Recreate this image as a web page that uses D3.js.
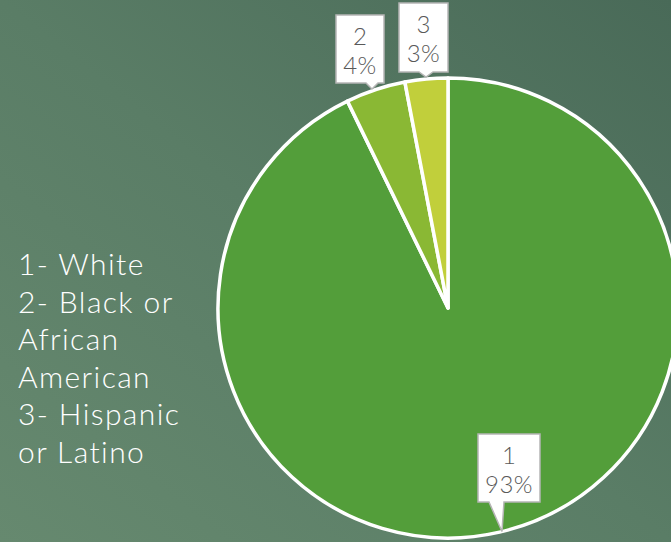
<!DOCTYPE html>
<html>
<head>
<meta charset="utf-8">
<script src="https://cdn.jsdelivr.net/npm/d3@7/dist/d3.min.js"></script>
<style>
html,body{margin:0;padding:0;overflow:hidden;}
svg{display:block;}
</style>
</head>
<body>
<svg id="chart" width="671" height="542"></svg>
<script>
const categories = ["1", "2", "3"];
const values = [92.8, 4.2, 3.0];
const percentLabels = ["93%", "4%", "3%"];
const colors = ["#539e3a", "#8ab834", "#c1cf3b"];
const legendLines = ["1- White", "2- Black or", "African", "American", "3- Hispanic", "or Latino"];

const W = 671, H = 542;
const svg = d3.select("#chart");
const defs = svg.append("defs");
const grad = defs.append("linearGradient").attr("id", "bg")
  .attr("x1", "0%").attr("y1", "100%").attr("x2", "100%").attr("y2", "0%");
grad.append("stop").attr("offset", "0%").attr("stop-color", "#66896f");
grad.append("stop").attr("offset", "50%").attr("stop-color", "#5a7d66");
grad.append("stop").attr("offset", "100%").attr("stop-color", "#496a58");
svg.append("rect").attr("width", W).attr("height", H).attr("fill", "url(#bg)");

const cx = 448, cy = 308, r = 230;
const data = categories.map((c, i) => ({cat: c, value: values[i], pct: percentLabels[i], color: colors[i]}));
const pie = d3.pie().value(d => d.value).sort(null);
const arc = d3.arc().innerRadius(0).outerRadius(r);
const arcs = pie(data);

const g = svg.append("g").attr("transform", `translate(${cx},${cy})`);
g.selectAll("path.slice").data(arcs).enter().append("path")
  .attr("class", "slice")
  .attr("d", arc)
  .attr("fill", d => d.data.color)
  .attr("stroke", "#ffffff")
  .attr("stroke-width", 3.5)
  .attr("stroke-linejoin", "round");

const callouts = [
  {box: [478, 434, 62, 68], base: [489, 504]},
  {box: [336, 15, 48, 68], base: [366, 378]},
  {box: [399, 3, 49, 69], base: [419, 433]}
];
const font = "Lato, 'Open Sans', sans-serif";
arcs.forEach((a, i) => {
  const c = callouts[i];
  const [bx, by, bw, bh] = c.box;
  const bcx = bx + bw / 2;
  let ang;
  if (i === 0) {
    ang = Math.PI - Math.asin((502 - cx) / r);
  } else {
    ang = Math.asin(((c.base[0] + c.base[1]) / 2 - cx) / r) + 2 * Math.PI;
  }
  const tx = cx + r * Math.sin(ang), ty = cy - r * Math.cos(ang);
  const gb = svg.append("g");
  const bottom = by + bh;
  const tyAdj = i === 0 ? ty : ty - 2;
  const path = `M${bx},${by} H${bx + bw} V${bottom} H${c.base[1]} L${tx},${tyAdj} L${c.base[0]},${bottom} H${bx} Z`;
  gb.append("path").attr("d", path).attr("fill", "#ffffff")
    .attr("stroke", "#b5b5b5").attr("stroke-width", 1.5);
  gb.append("text").attr("x", bcx).attr("y", by + 30)
    .attr("text-anchor", "middle").attr("font-family", font).attr("font-weight", 300)
    .attr("font-size", 24).attr("fill", "#595959").text(a.data.cat);
  gb.append("text").attr("x", bcx).attr("y", by + 59)
    .attr("text-anchor", "middle").attr("font-family", font).attr("font-weight", 300)
    .attr("font-size", 24).attr("letter-spacing", 0.5).attr("fill", "#595959").text(a.data.pct);
});

const lg = svg.append("g");
lg.selectAll("text").data(legendLines).enter().append("text")
  .attr("x", 18)
  .attr("y", (d, i) => 275 + i * 37.6)
  .attr("font-family", font)
  .attr("font-weight", 300)
  .attr("font-size", 30)
  .attr("letter-spacing", 1.4)
  .attr("fill", "#ffffff")
  .text(d => d);
</script>
</body>
</html>
